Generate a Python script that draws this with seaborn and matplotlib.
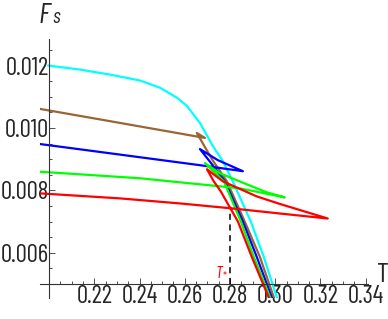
import numpy as np
import pandas as pd
import matplotlib
matplotlib.use('Agg')
import matplotlib.pyplot as plt
import seaborn as sns
from matplotlib.ticker import MultipleLocator, FormatStrFormatter

# swallowtail curves F_s(T): upper branch -> middle branch -> steep branch
T_cyan = [0.1996, 0.2137, 0.2269, 0.2402, 0.2490, 0.2565, 0.2609, 0.2667, 0.2724, 0.2768, 0.2812, 0.2892, 0.2949, 0.3011]
F_cyan = [0.01200, 0.01187, 0.01171, 0.01152, 0.01129, 0.01097, 0.01071, 0.01016, 0.00942, 0.00894, 0.00829, 0.00700, 0.00587, 0.00448]

T_brown = [0.1960, 0.2314, 0.2689, 0.2653, 0.2720, 0.2786, 0.2865, 0.2932, 0.2998]
F_brown = [0.01061, 0.01016, 0.00968, 0.00984, 0.00900, 0.00829, 0.00700, 0.00587, 0.00448]

T_blue = [0.1960, 0.2314, 0.2667, 0.2857, 0.2746, 0.2667, 0.2720, 0.2777, 0.2857, 0.2918, 0.2989]
F_blue = [0.009484, 0.009145, 0.008806, 0.008613, 0.008968, 0.009323, 0.008839, 0.008290, 0.007000, 0.005871, 0.004484]

T_green = [0.1960, 0.2402, 0.2578, 0.2843, 0.3042, 0.2963, 0.2874, 0.2755, 0.2689, 0.2773, 0.2848, 0.2905, 0.2982]
F_green = [0.008597, 0.008387, 0.008258, 0.008065, 0.007774, 0.007935, 0.008194, 0.008548, 0.008871, 0.008290, 0.007000, 0.005871, 0.004484]

T_red = [0.1960, 0.2314, 0.2578, 0.2812, 0.3020, 0.3232, 0.3108, 0.3020, 0.2918, 0.2768, 0.2698, 0.2728, 0.2759, 0.2835, 0.2896, 0.2976]
F_red = [0.007903, 0.007742, 0.007581, 0.007419, 0.007258, 0.007097, 0.007371, 0.007565, 0.007806, 0.008290, 0.008677, 0.008290, 0.007968, 0.007000, 0.005871, 0.004484]

T_star = 0.28
F_star = 0.00739

x_ticks = [0.22, 0.24, 0.26, 0.28, 0.30, 0.32, 0.34]
y_ticks = [0.006, 0.008, 0.010, 0.012]

sns.set_style('white')
narrow = ['Liberation Sans Narrow', 'Barlow Condensed', 'Archivo Narrow', 'DejaVu Sans']
plt.rcParams['font.family'] = narrow

fig = plt.figure(figsize=(3.88, 3.19), dpi=100)
ax = fig.add_axes([40/388, 21/319, 328/388, 259/319])

curves = [(T_cyan, F_cyan, '#00ffff'), (T_brown, F_brown, '#996633'),
          (T_blue, F_blue, '#0000ff'), (T_green, F_green, '#00ff00'),
          (T_red, F_red, '#ff0000')]
for T, F, c in curves:
    sns.lineplot(x=T, y=F, sort=False, estimator=None, color=c, linewidth=1.6, ax=ax)

ax.plot([T_star, T_star], [0.005, F_star], color='black', lw=1.1, ls=(0, (4, 3)))

ax.set_xlim(0.196, 0.341)
ax.set_ylim(0.00455, 0.01285)

ax.spines['left'].set_position(('data', 0.20))
ax.spines['bottom'].set_position(('data', 0.005))
ax.spines['top'].set_visible(False)
ax.spines['right'].set_visible(False)
for s in ['left', 'bottom']:
    ax.spines[s].set_color('#333333')
    ax.spines[s].set_linewidth(0.8)

ax.set_xticks(x_ticks)
ax.set_yticks(y_ticks)
ax.xaxis.set_major_formatter(FormatStrFormatter('%.2f'))
ax.yaxis.set_major_formatter(FormatStrFormatter('%.3f'))
ax.xaxis.set_minor_locator(MultipleLocator(0.005))
ax.yaxis.set_minor_locator(MultipleLocator(0.0005))
ax.tick_params(which='both', direction='in', color='#333333', width=0.6,
               labelsize=18, bottom=True, left=True)
ax.tick_params(which='major', length=4)
ax.tick_params(which='minor', length=2.5)
ax.tick_params(axis='y', pad=0)
ax.tick_params(axis='x', pad=1)

fig.text(39/388, 1 - 3/319, 'F', fontsize=21, style='italic', ha='left', va='top')
fig.text(52/388, 1 - 27/319, 's', fontsize=15, style='italic', ha='left', va='bottom')
fig.text(377/388, 1 - 287/319, 'T', fontsize=20, ha='left', va='bottom')
ax.text(0.2767, 0.00508, 'T', color='red', fontsize=12, style='italic', ha='right', va='bottom')
ax.text(0.2767, 0.00505, '*', color='red', fontsize=8, ha='left', va='bottom')

fig.savefig('out.png', dpi=100)
